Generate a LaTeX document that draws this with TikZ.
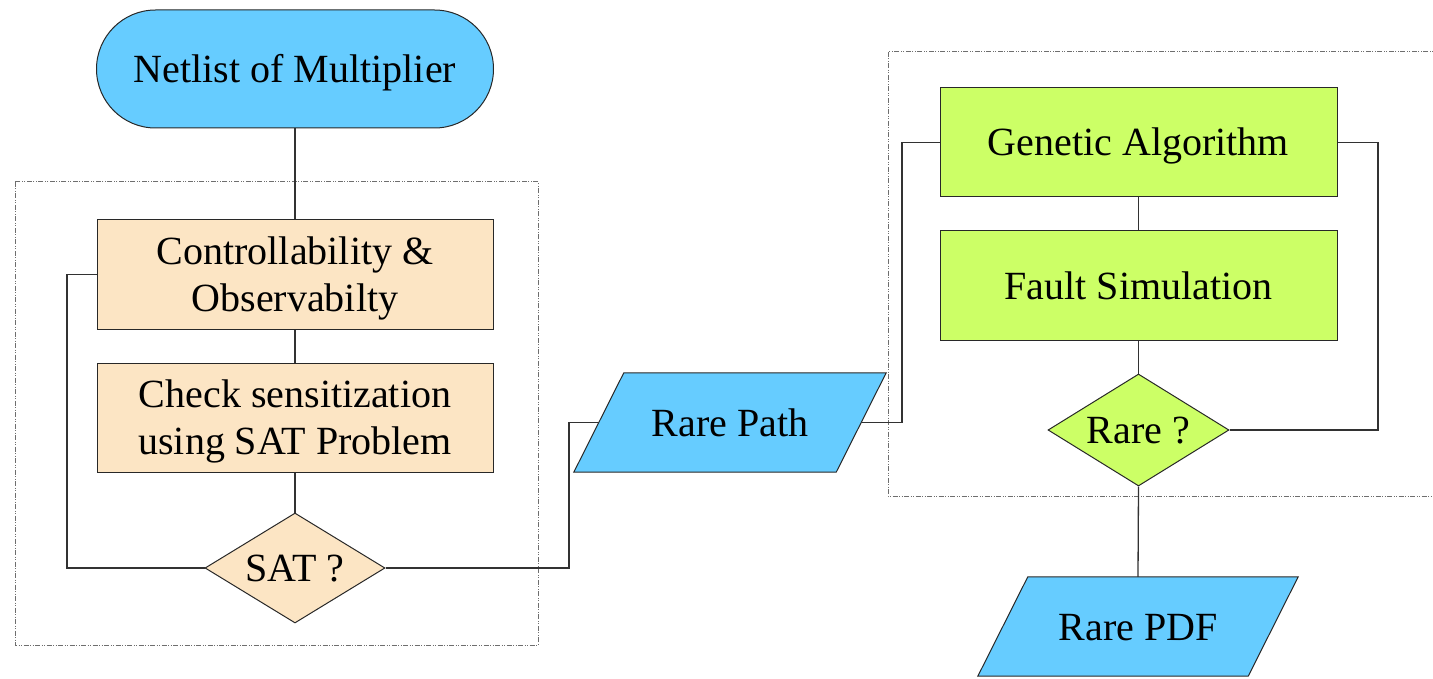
\documentclass[tikz,border=0pt]{standalone}
\usepackage{fontspec}
\setmainfont{Liberation Serif}
\usetikzlibrary{shapes.geometric,backgrounds}

\definecolor{skyfill}{RGB}{102,204,255}
\definecolor{tanfill}{RGB}{252,229,196}
\definecolor{limefill}{RGB}{204,255,102}
\definecolor{edgecol}{RGB}{40,40,40}
\definecolor{wirecol}{RGB}{50,50,50}
\definecolor{framecol}{RGB}{110,110,110}

% line strut spanning the font's full ascent and descent
\newcommand\fstrut{\rule[-0.216em]{0pt}{1.107em}}

\tikzset{
  every node/.style={font=\fontsize{40}{47}\selectfont, align=center, inner sep=0pt},
  terminal/.style={draw=edgecol, line width=1pt, fill=skyfill, rectangle,
    rounded corners=59pt, minimum width=397pt, minimum height=118pt},
  tanbox/.style={draw=edgecol, line width=1pt, fill=tanfill, rectangle,
    minimum width=396pt, minimum height=109pt},
  limebox/.style={draw=edgecol, line width=1pt, fill=limefill, rectangle,
    minimum width=397pt, minimum height=109pt},
  decision/.style={draw=edgecol, line width=1pt, diamond, aspect=1.6},
  iospace/.style={rectangle, minimum height=99pt},
  iofill/.style={draw=edgecol, line width=1pt, fill=skyfill},
  wire/.style={draw=wirecol, line width=1.3pt},
  frame/.style={draw=framecol, line width=1pt,
    dash pattern=on 5pt off 1.5pt on 1pt off 1.5pt on 1pt off 1.5pt}
}

\begin{document}
\begin{tikzpicture}[x=1pt, y=-1pt]
  \useasboundingbox (0,0) rectangle (1433,679);
  \clip (0,0) rectangle (1433,679);

  % dashed group frames
  \draw[frame] (15,182) rectangle (538,645);
  \draw[frame] (888,52) rectangle (1450,496);

  % left column
  \node[terminal] (net) at (295,69) {\fstrut Netlist of Multiplier};
  \node[tanbox] (ctrl) at (295,274.5) {\fstrut Controllability \&\\\fstrut Observabilty};
  \node[tanbox] (chk) at (295,417.5) {\fstrut Check sensitization\\\fstrut using SAT Problem};
  \node[decision, fill=tanfill, minimum width=180pt, minimum height=110pt] (sat) at (295,568) {\fstrut SAT ?};

  % input/output parallelograms (text holders, outlines drawn behind)
  \node[iospace, minimum width=262pt] (rp) at (730,422.5) {\fstrut Rare Path};
  \node[iospace, minimum width=270pt] (pdf) at (1138,626.5) {\fstrut Rare PDF};
  \begin{scope}[on background layer]
    \draw[iofill] ([xshift=25pt]rp.north west) -- ([xshift=25pt]rp.north east)
      -- ([xshift=-25pt]rp.south east) -- ([xshift=-25pt]rp.south west) -- cycle;
    \draw[iofill] ([xshift=25pt]pdf.north west) -- ([xshift=25pt]pdf.north east)
      -- ([xshift=-25pt]pdf.south east) -- ([xshift=-25pt]pdf.south west) -- cycle;
  \end{scope}

  % right column
  \node[limebox] (ga) at (1138.5,142.5) {\fstrut Genetic Algorithm};
  \node[limebox] (fs) at (1138.5,285.5) {\fstrut Fault Simulation};
  \node[decision, fill=limefill, minimum width=181pt, minimum height=112pt] (rare) at (1138.5,430) {\fstrut Rare ?};

  % routing points
  \coordinate (lp) at (67,568);
  \coordinate (j1) at (569,568);
  \coordinate (j2) at (902,422.5);
  \coordinate (rp2) at (1378,430);

  % connectors
  \draw[wire] (net.south) -- (ctrl.north);
  \draw[wire] (ctrl.south) -- (chk.north);
  \draw[wire] (chk.south) -- (sat.north);
  \draw[wire] (sat.west) -- (lp) |- (ctrl.west);
  \draw[wire] (sat.east) -- (j1) |- (rp.west);
  \draw[wire] (rp.east) -- (j2) |- (ga.west);
  \draw[wire] (ga.south) -- (fs.north);
  \draw[wire] (fs.south) -- (rare.north);
  \draw[wire] (rare.east) -- (rp2) |- (ga.east);
  \draw[wire] (rare.south) -- (pdf.north);
\end{tikzpicture}
\end{document}
